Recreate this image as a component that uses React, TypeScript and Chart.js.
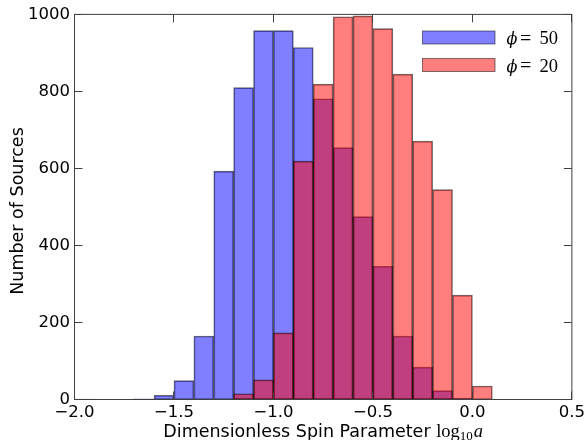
import React, { useEffect, useRef } from 'react';
import { Chart, registerables } from 'chart.js';

Chart.register(...registerables);

// Histogram bin centres (bin width 0.1, edges from -2.0 to 0.1)
const binCenters = [
  -1.95, -1.85, -1.75, -1.65, -1.55, -1.45, -1.35, -1.25, -1.15, -1.05, -0.95,
  -0.85, -0.75, -0.65, -0.55, -0.45, -0.35, -0.25, -0.15, -0.05, 0.05,
];
// phi = 50 (blue)
const phi50Counts = [
  1, null, null, 2, 11, 49, 165, 593, 810, 958, 958,
  914, 781, 654, 475, 346, 165, 84, 23, 4, null,
];
// phi = 20 (red)
const phi20Counts = [
  null, null, null, null, null, null, null, 1, 15, 51, 173,
  619, 819, 994, 996, 963, 845, 671, 545, 271, 35,
];
const xTickValues = [-2.0, -1.5, -1.0, -0.5, 0.0, 0.5];
const yTickValues = [0, 200, 400, 600, 800, 1000];
const legendPhiValues = ['50', '20'];
const yTitle = 'Number of Sources';
const xTitleText = 'Dimensionless Spin Parameter';

const BLUE = 'rgba(0,0,255,0.5)';
const RED = 'rgba(255,0,0,0.5)';
const EDGE = 'rgba(0,0,0,0.6)';
const FRAME = '#404040';

const fmtX = (v: number) => Number(v).toFixed(1).replace('-', '\u2212');

const decorPlugin = {
  id: 'decor',
  afterDatasetsDraw(chart: any) {
    const { ctx, chartArea } = chart;
    const { left, right, top, bottom } = chartArea;
    const xs = chart.scales.x;
    const ys = chart.scales.y;
    const snap = (p: number) => Math.round(p - 0.5) + 0.5;
    ctx.save();
    ctx.strokeStyle = FRAME;
    ctx.lineWidth = 1;
    ctx.strokeRect(left, top, right - left, bottom - top);
    const tl = 8;
    ctx.beginPath();
    xTickValues.forEach((v) => {
      const p = snap(xs.getPixelForValue(v));
      ctx.moveTo(p, bottom);
      ctx.lineTo(p, bottom - tl);
      ctx.moveTo(p, top);
      ctx.lineTo(p, top + tl);
    });
    yTickValues.forEach((v) => {
      const p = snap(ys.getPixelForValue(v));
      ctx.moveTo(left, p);
      ctx.lineTo(left + tl, p);
      ctx.moveTo(right, p);
      ctx.lineTo(right - tl, p);
    });
    ctx.stroke();

    // legend
    const colors = [BLUE, RED];
    const rows = [31, 58.5];
    rows.forEach((y0, i) => {
      ctx.fillStyle = colors[i];
      ctx.fillRect(422.5, y0, 72.5, 13);
      ctx.strokeStyle = 'rgba(0,0,0,0.5)';
      ctx.strokeRect(422.5, y0, 72.5, 13);
      const base = y0 + 13.2;
      ctx.fillStyle = '#000';
      ctx.textBaseline = 'alphabetic';
      ctx.textAlign = 'left';
      ctx.font = 'italic 16px "DejaVu Serif"';
      ctx.fillText('\u03D5', 506.5, base);
      ctx.font = '20px "Liberation Serif"';
      ctx.fillText('=', 520, base + 0.5);
      ctx.font = '18.5px "Liberation Serif"';
      ctx.fillText(legendPhiValues[i], 539.5, base);
    });
    ctx.restore();
  },
  afterDraw(chart: any) {
    const { ctx, chartArea } = chart;
    ctx.save();
    ctx.fillStyle = '#000';
    // y title
    ctx.translate(22.5, 211);
    ctx.rotate(-Math.PI / 2);
    ctx.textAlign = 'center';
    ctx.textBaseline = 'alphabetic';
    ctx.font = '17.5px "DejaVu Sans"';
    ctx.fillText(yTitle, 0, 0);
    ctx.setTransform(1, 0, 0, 1, 0, 0);

    // x title with math
    const sansFont = '17.5px "DejaVu Sans"';
    const mathFont = '18.5px "Liberation Serif"';
    const subFont = '13px "Liberation Serif"';
    const itFont = 'italic 18.5px "Liberation Serif"';
    const part1 = xTitleText + ' ';
    ctx.font = sansFont;
    const w1 = ctx.measureText(part1).width;
    ctx.font = mathFont;
    const w2 = ctx.measureText('log').width;
    ctx.font = subFont;
    const w3 = ctx.measureText('10').width;
    ctx.font = itFont;
    const w4 = ctx.measureText('a').width;
    const total = w1 + w2 + w3 + 1 + w4;
    const cx = (chartArea.left + chartArea.right) / 2;
    let x = cx - total / 2;
    const base = 436.7;
    ctx.textAlign = 'left';
    ctx.font = sansFont;
    ctx.fillText(part1, x, base);
    x += w1;
    ctx.font = mathFont;
    ctx.fillText('log', x, base);
    x += w2;
    ctx.font = subFont;
    ctx.fillText('10', x, base + 3);
    x += w3 + 1;
    ctx.font = itFont;
    ctx.fillText('a', x, base);
    ctx.restore();
  },
};

export default function App() {
  const ref = useRef<HTMLCanvasElement | null>(null);
  useEffect(() => {
    if (!ref.current) return;
    const tickFont = { family: '"DejaVu Sans"', size: 16.5 };
    const common = {
      borderColor: EDGE,
      borderWidth: 1,
      borderSkipped: false,
      grouped: false,
      barPercentage: 1,
      categoryPercentage: 1,
    };
    const chart = new Chart(ref.current, {
      type: 'bar',
      data: {
        datasets: [
          {
            label: '\u03D5 = 20',
            data: binCenters.map((x, i) => ({ x, y: phi20Counts[i] })),
            backgroundColor: RED,
            ...common,
          } as any,
          {
            label: '\u03D5 = 50',
            data: binCenters.map((x, i) => ({ x, y: phi50Counts[i] })),
            backgroundColor: BLUE,
            ...common,
          } as any,
        ],
      },
      options: {
        responsive: false,
        animation: false,
        devicePixelRatio: 1,
        layout: { padding: { top: 13.5, right: 14.5, left: 0, bottom: 0 } },
        plugins: { legend: { display: false }, tooltip: { enabled: false } },
        scales: {
          x: {
            type: 'linear',
            min: -2,
            max: 0.5,
            offset: false,
            grid: { display: false, drawTicks: false },
            border: { display: false },
            ticks: {
              stepSize: 0.5,
              autoSkip: false,
              maxRotation: 0,
              padding: 3,
              color: '#000',
              font: tickFont,
              callback: (v: any) => fmtX(v),
            },
            afterFit: (s: any) => {
              s.height = 40.5;
            },
          },
          y: {
            min: 0,
            max: 1000,
            grid: { display: false, drawTicks: false },
            border: { display: false },
            ticks: {
              stepSize: 200,
              padding: 4.5,
              color: '#000',
              font: tickFont,
              callback: (v: any) => String(v),
            },
            afterFit: (s: any) => {
              s.width = 74.5;
            },
          },
        },
      } as any,
      plugins: [decorPlugin],
    });
    return () => chart.destroy();
  }, []);
  return (
    <div style={{ position: 'fixed', left: 0, top: 0, width: 588, height: 440, background: '#fff' }}>
      <canvas ref={ref} width={588} height={440} style={{ display: 'block' }} />
    </div>
  );
}
